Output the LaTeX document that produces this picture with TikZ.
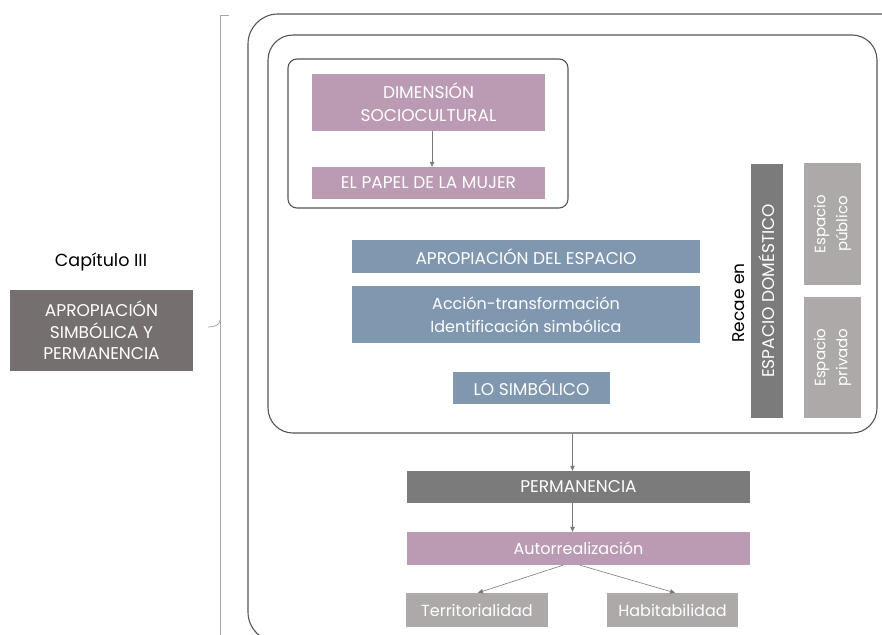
\documentclass[tikz,border=0pt]{standalone}
\usepackage{fontspec}
\setmainfont{Poppins}
\usetikzlibrary{arrows.meta}

\definecolor{rosa}{HTML}{BB9BB3}
\definecolor{azul}{HTML}{8097B0}
\definecolor{oscuro}{HTML}{7B7B7B}
\definecolor{pardo}{HTML}{756F6F}
\definecolor{claro}{HTML}{ADA9A9}
\definecolor{linea}{HTML}{555555}
\definecolor{flechagris}{HTML}{7A7A7A}

\tikzset{
    caja/.style={rectangle, draw=none, text=white, align=center, inner sep=0pt,
                 font=\fontsize{17}{23}\selectfont},
    minus/.style={font=\fontsize{16}{23}\selectfont},
    rosacaja/.style={caja, fill=rosa},
    azulcaja/.style={caja, fill=azul},
    oscurocaja/.style={caja, fill=oscuro},
    clarocaja/.style={caja, fill=claro},
    marco/.style={rectangle, draw=linea, line width=1.1pt, inner sep=0pt},
    flecha/.style={-{Triangle[length=5pt,width=4.5pt]}, draw=flechagris, line width=0.6pt},
}

\begin{document}
\begin{tikzpicture}[x=1pt,y=-1pt]
\useasboundingbox (0,0) rectangle (882,634);

% corchete y marco exterior
\draw[draw=gray!70, line width=0.8pt] (229,15) -- (220,15) -- (220,640);
\draw[draw=gray!70, line width=0.8pt] (220,320) to[out=-90,in=0] (208,327);
\draw[draw=linea, line width=1.1pt, rounded corners=30pt] (248,14) rectangle (915,642);

% marcos interiores
\node[marco, rounded corners=25pt, minimum width=609pt, minimum height=398pt] (Int) at (572.5,234) {};
\node[marco, rounded corners=9pt, minimum width=280pt, minimum height=149pt] (Soc) at (428,133.5) {};

% izquierda
\node[font=\fontsize{17.5}{21}\selectfont] (Cap) at (101,262) {Capítulo III};
\node[caja, fill=pardo, minimum width=183pt, minimum height=81pt,
      font=\fontsize{17}{21.5}\selectfont] (Apro) at (101.5,330.5)
    {APROPIACIÓN\\SIMBÓLICA Y\\PERMANENCIA};

% dimension sociocultural
\node[rosacaja, minimum width=233pt, minimum height=57pt] (Dim) at (428.5,102.5) {DIMENSIÓN\\SOCIOCULTURAL};
\node[rosacaja, minimum width=233pt, minimum height=32pt] (Papel) at (428.5,183) {EL PAPEL DE LA MUJER};

% apropiacion
\node[azulcaja, minimum width=348pt, minimum height=33pt] (Esp) at (526,256.5) {APROPIACIÓN DEL ESPACIO};
\node[azulcaja, minus, minimum width=348pt, minimum height=57pt] (Acc) at (526,314.5)
    {Acción-transformación\\Identificación simbólica};
\node[azulcaja, minimum width=157pt, minimum height=32pt] (Simb) at (531.5,388) {LO SIMBÓLICO};

% espacios
\node[rotate=90, font=\fontsize{17}{21}\selectfont] (Recae) at (739,303) {Recae en};
\node[oscurocaja, rotate=90, minimum width=254pt, minimum height=32pt] (Dom) at (767,291) {ESPACIO DOMÉSTICO};
\node[clarocaja, rotate=90, minimum width=122pt, minimum height=57pt,
      font=\fontsize{15}{22}\selectfont] (Pub) at (832.5,224) {Espacio\\público};
\node[clarocaja, rotate=90, minimum width=121pt, minimum height=57pt,
      font=\fontsize{15}{22}\selectfont] (Priv) at (832.5,357.5) {Espacio\\privado};

% permanencia
\node[oscurocaja, minimum width=343pt, minimum height=32pt] (Perm) at (578.5,487) {PERMANENCIA};
\node[rosacaja, minus, minimum width=343pt, minimum height=33pt] (Auto) at (578.5,548.5) {Autorrealización};
\node[clarocaja, minus, minimum width=142pt, minimum height=34pt] (Terr) at (477,610) {Territorialidad};
\node[clarocaja, minus, minimum width=131pt, minimum height=34pt] (Habi) at (672.5,610) {Habitabilidad};

% flechas
\draw[flecha] ([xshift=3.5pt]Dim.south) -- ([xshift=3.5pt]Papel.north);
\draw[flecha] (Int.south) -- (Int.south |- Perm.north);
\draw[flecha] (Perm.south -| Int.south) -- (Auto.north -| Int.south);
\draw[flecha] ([xshift=-15.5pt]Auto.south) -- ([xshift=1pt]Terr.north);
\draw[flecha] ([xshift=1.5pt]Auto.south) -- ([xshift=2.5pt]Habi.north);
\end{tikzpicture}
\end{document}
